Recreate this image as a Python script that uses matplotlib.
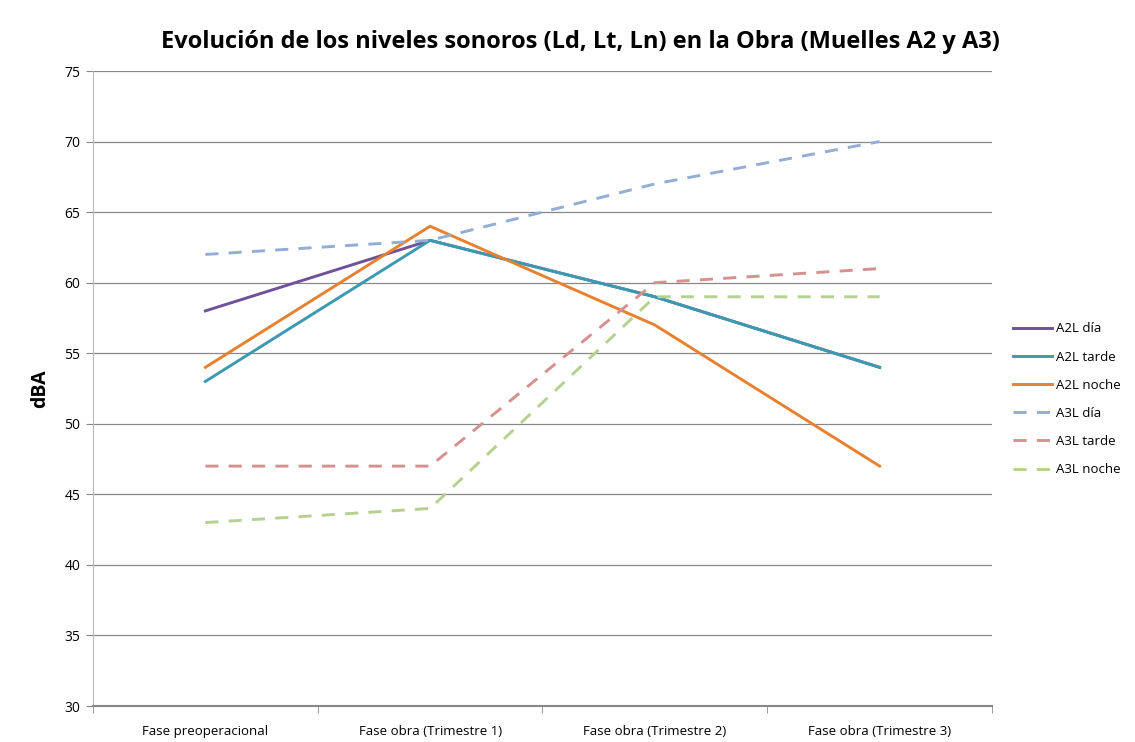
import matplotlib
matplotlib.use('Agg')
import matplotlib.pyplot as plt
from matplotlib.ticker import FixedLocator, NullFormatter

plt.rcParams['font.family'] = ['Open Sans', 'DejaVu Sans']

fases = ['Fase preoperacional', 'Fase obra (Trimestre 1)',
         'Fase obra (Trimestre 2)', 'Fase obra (Trimestre 3)']

a2l_dia = [58, 63, 59, 54]
a2l_tarde = [53, 63, 59, 54]
a2l_noche = [54, 64, 57, 47]
a3l_dia = [62, 63, 67, 70]
a3l_tarde = [47, 47, 60, 61]
a3l_noche = [43, 44, 59, 59]

series = [
    ('A2L día', a2l_dia, '#6F529A', '-'),
    ('A2L tarde', a2l_tarde, '#3B9AB1', '-'),
    ('A2L noche', a2l_noche, '#E8812F', '-'),
    ('A3L día', a3l_dia, '#92AED6', (0, (4.5, 3.5))),
    ('A3L tarde', a3l_tarde, '#D5918F', (0, (4.5, 3.5))),
    ('A3L noche', a3l_noche, '#B6D08F', (0, (4.5, 3.5))),
]

fig = plt.figure(figsize=(11.35, 7.42), dpi=100)
ax = fig.add_axes([0.0819, 0.0485, 0.7921, 0.8558])

x = list(range(len(fases)))
for nombre, vals, col, ls in series:
    ax.plot(x, vals, color=col, linestyle=ls, linewidth=2.1, label=nombre)

ax.set_xlim(-0.5, 3.5)
ax.set_ylim(30, 75)
ax.set_yticks(range(30, 76, 5))
ax.yaxis.grid(True, color='#888888', linewidth=0.9)
ax.set_axisbelow(True)

ax.set_xticks(x)
ax.set_xticklabels(fases, fontsize=9.5)
ax.tick_params(axis='x', length=0, pad=14)
ax.xaxis.set_minor_locator(FixedLocator([-0.5, 0.5, 1.5, 2.5, 3.5]))
ax.xaxis.set_minor_formatter(NullFormatter())
ax.tick_params(axis='x', which='minor', length=5, color='#888888')
ax.tick_params(axis='y', length=5, color='#888888', labelsize=10, pad=4)

for s in ['top', 'right']:
    ax.spines[s].set_visible(False)
ax.spines['left'].set_color('#BBBBBB')
ax.spines['bottom'].set_color('#888888')
ax.spines['bottom'].set_linewidth(1.5)

ax.set_ylabel('dBA', fontsize=14, fontweight='bold', labelpad=10)

fig.text(0.511, 0.944, 'Evolución de los niveles sonoros (Ld, Lt, Ln) en la Obra (Muelles A2 y A3)',
         ha='center', va='center', fontsize=17, fontweight='bold')

ax.legend(loc='center left', bbox_to_anchor=(1.01, 0.483), frameon=False,
          fontsize=9.5, handlelength=3.0, labelspacing=1.15, handletextpad=0.3)

fig.savefig('out.png', dpi=100)
